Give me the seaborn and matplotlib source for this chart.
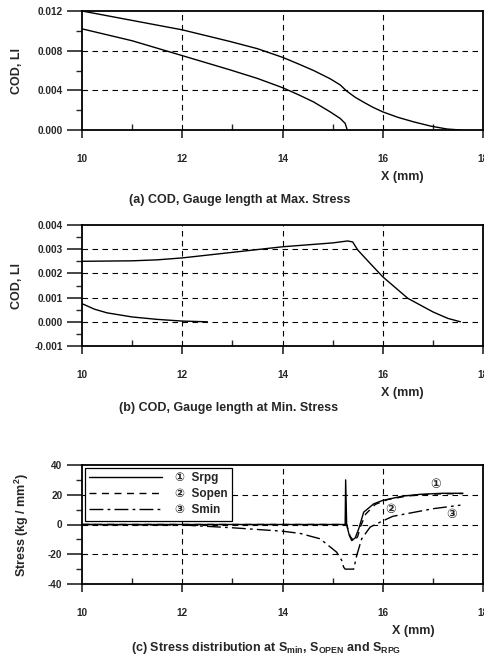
import matplotlib
matplotlib.use("Agg")
import matplotlib.pyplot as plt
import seaborn as sns
import numpy as np
from matplotlib.ticker import MultipleLocator, FormatStrFormatter

# ---- data ----
a_x_upper = [10, 11, 12, 12.95, 13.5, 14, 14.3, 14.62, 14.95, 15.15, 15.28, 15.45, 15.61, 15.8, 16, 16.3, 16.61, 16.95, 17.28, 17.55]
a_y_upper = [0.0120, 0.01105, 0.0101, 0.00893, 0.0082, 0.00733, 0.0067, 0.0060, 0.00517, 0.00455, 0.00393, 0.00330, 0.00283, 0.00230, 0.00183, 0.00128, 0.00083, 0.00040, 0.0001, 0.0]
a_x_lower = [10, 11, 12, 12.95, 13.5, 14, 14.3, 14.62, 14.95, 15.15, 15.25, 15.28, 15.29]
a_y_lower = [0.0102, 0.0090, 0.0075, 0.00607, 0.0052, 0.00427, 0.0036, 0.00283, 0.00183, 0.00117, 0.00067, 0.0002, 0.0]

b_x_upper = [10, 11, 11.5, 12, 13, 14, 15, 15.3, 15.4, 15.5, 15.75, 16, 16.5, 17, 17.3, 17.55]
b_y_upper = [0.0025, 0.00252, 0.00256, 0.00264, 0.00287, 0.0031, 0.00326, 0.00334, 0.00330, 0.00297, 0.00241, 0.00186, 0.00097, 0.00041, 0.00014, 0.0]
b_x_lower = [10, 10.25, 10.5, 11, 11.5, 12, 12.5]
b_y_lower = [0.00075, 0.00052, 0.00037, 0.0002, 0.0001, 0.00003, 0.0]

c_x_srpg = [10, 15.25, 15.26, 15.28, 15.33, 15.38, 15.45, 15.52, 15.62, 15.82, 16.0, 16.4, 16.75, 17.2, 17.6]
c_y_srpg = [0, 0, 30, 0, -7, -10.8, -9, -3, 8.3, 13.9, 16.2, 19.1, 20.3, 21.0, 21.0]
c_x_sopen = [10, 15.28, 15.35, 15.43, 15.5, 15.56, 15.66, 15.85, 16.1, 16.5, 17.0, 17.6]
c_y_sopen = [0, 0, -8, -11.5, -8, -1, 7, 13.5, 16.8, 19.2, 20.5, 20.8]
c_x_smin = [10, 12, 13, 14, 14.35, 14.75, 15.08, 15.18, 15.22, 15.25, 15.42, 15.48, 15.58, 15.75, 15.95, 16.2, 16.75, 17.0, 17.55]
c_y_smin = [0, -0.3, -2.2, -4.5, -6.0, -9.6, -18.6, -24, -28.7, -30, -30, -20.9, -9.6, -1.7, 1.6, 5.5, 9.0, 10.6, 13.0]

series_labels = ["\u2460  Srpg", "\u2461  Sopen", "\u2462  Smin"]

sns.set_theme(style="white")
plt.rcParams['font.family'] = ['Liberation Sans', 'DejaVu Sans', 'Noto Sans CJK SC']
plt.rcParams['font.weight'] = 'bold'
plt.rcParams['mathtext.fontset'] = 'custom'
plt.rcParams['mathtext.rm'] = 'Liberation Sans:bold'
plt.rcParams['mathtext.bf'] = 'Liberation Sans:bold'

W, H = 484, 658
fig = plt.figure(figsize=(W / 100, H / 100), dpi=100)

def make_ax(top_px, bot_px):
    left, right = 82, 483
    return fig.add_axes([left / W, 1 - bot_px / H, (right - left) / W, (bot_px - top_px) / H])

ax_a = make_ax(11, 130)
ax_b = make_ax(225, 346)
ax_c = make_ax(465, 584)

grid_kw = dict(color='black', lw=0.8, linestyle=(0, (5, 4)), zorder=1)

def style(ax, ylim, ymaj, ymin_, fmt, hgrid):
    ax.set_xlim(10, 18)
    ax.set_ylim(*ylim)
    ax.xaxis.set_major_locator(MultipleLocator(2))
    ax.xaxis.set_minor_locator(MultipleLocator(1))
    ax.yaxis.set_major_locator(MultipleLocator(ymaj))
    ax.yaxis.set_minor_locator(MultipleLocator(ymin_))
    ax.yaxis.set_major_formatter(FormatStrFormatter(fmt))
    ax.tick_params(axis='x', which='major', direction='out', length=6, width=1.2, labelsize=7.2, pad=11, bottom=True)
    ax.tick_params(axis='x', which='minor', direction='in', length=4, width=1, bottom=True)
    ax.tick_params(axis='y', which='major', direction='out', length=11, width=1.2, labelsize=7.2, pad=3, left=True)
    ax.tick_params(axis='y', which='minor', direction='out', length=4, width=1, left=True)
    for lab in ax.get_xticklabels() + ax.get_yticklabels():
        lab.set_fontweight('bold')
    for s in ax.spines.values():
        s.set_color('black')
        s.set_linewidth(1.3)
    for xv in [12, 14, 16]:
        ax.axvline(xv, **grid_kw)
    for yv in hgrid:
        ax.axhline(yv, **grid_kw)

line_kw = dict(color='black', lw=1.0, sort=False, estimator=None, zorder=3)

# panel a
sns.lineplot(x=a_x_upper, y=a_y_upper, ax=ax_a, **line_kw)
sns.lineplot(x=a_x_lower, y=a_y_lower, ax=ax_a, **line_kw)
style(ax_a, (0, 0.012), 0.004, 0.002, '%.3f', [0.004, 0.008])
ax_a.set_ylabel("COD, LI", fontsize=9, fontweight='bold')
ax_a.yaxis.set_label_coords(-0.147, 0.5)

# panel b
sns.lineplot(x=b_x_upper, y=b_y_upper, ax=ax_b, **line_kw)
sns.lineplot(x=b_x_lower, y=b_y_lower, ax=ax_b, **line_kw)
style(ax_b, (-0.001, 0.004), 0.001, 0.0005, '%.3f', [0.0, 0.001, 0.002, 0.003])
ax_b.set_ylabel("COD, LI", fontsize=9, fontweight='bold')
ax_b.yaxis.set_label_coords(-0.147, 0.5)

# panel c
sns.lineplot(x=c_x_srpg, y=c_y_srpg, ax=ax_c, label=series_labels[0], **line_kw)
sns.lineplot(x=c_x_sopen, y=c_y_sopen, ax=ax_c, label=series_labels[1], linestyle=(0, (5, 4)), **line_kw)
sns.lineplot(x=c_x_smin, y=c_y_smin, ax=ax_c, label=series_labels[2], linestyle=(0, (10, 3, 2, 3)), **line_kw)
style(ax_c, (-40, 40), 20, 10, '%d', [-20, 0, 20])
ax_c.set_ylabel("Stress (kg / mm$^2$)", fontsize=9, fontweight='bold')
ax_c.yaxis.set_label_coords(-0.127, 0.5)
leg = ax_c.legend(loc='upper left', bbox_to_anchor=(0.0075, 0.975), frameon=True, fancybox=False,
                  edgecolor='black', framealpha=1, handlelength=6.2, fontsize=8.5,
                  borderpad=0.35, labelspacing=0.35, handletextpad=1.1, borderaxespad=0)
leg.get_frame().set_linewidth(0.9)
for t in leg.get_texts():
    t.set_fontweight('bold')
ax_c.text(17.05, 26.3, "\u2460", fontsize=9, ha='center', va='center')
ax_c.text(16.15, 10.0, "\u2461", fontsize=9, ha='center', va='center')
ax_c.text(17.38, 6.1, "\u2462", fontsize=9, ha='center', va='center')

for ax in (ax_a, ax_b, ax_c):
    ax.set_xlabel("")

# x labels and captions
fs_cap = 9
fig.text(402 / W, 1 - 177 / H, "X (mm)", fontsize=fs_cap, fontweight='bold', ha='center', va='center')
fig.text(240 / W, 1 - 200 / H, "(a) COD, Gauge length at Max. Stress", fontsize=fs_cap, fontweight='bold', ha='center', va='center')
fig.text(402 / W, 1 - 393 / H, "X (mm)", fontsize=fs_cap, fontweight='bold', ha='center', va='center')
fig.text(229 / W, 1 - 408 / H, "(b) COD, Gauge length at Min. Stress", fontsize=fs_cap, fontweight='bold', ha='center', va='center')
fig.text(413 / W, 1 - 631 / H, "X (mm)", fontsize=fs_cap, fontweight='bold', ha='center', va='center')
fig.text(266 / W, 1 - 648 / H,
         r"(c) Stress distribution at S$_{\mathrm{min}}$, S$_{\mathrm{OPEN}}$ and S$_{\mathrm{RPG}}$",
         fontsize=fs_cap, fontweight='bold', ha='center', va='center')

fig.savefig("out.png", dpi=100, facecolor='white')
